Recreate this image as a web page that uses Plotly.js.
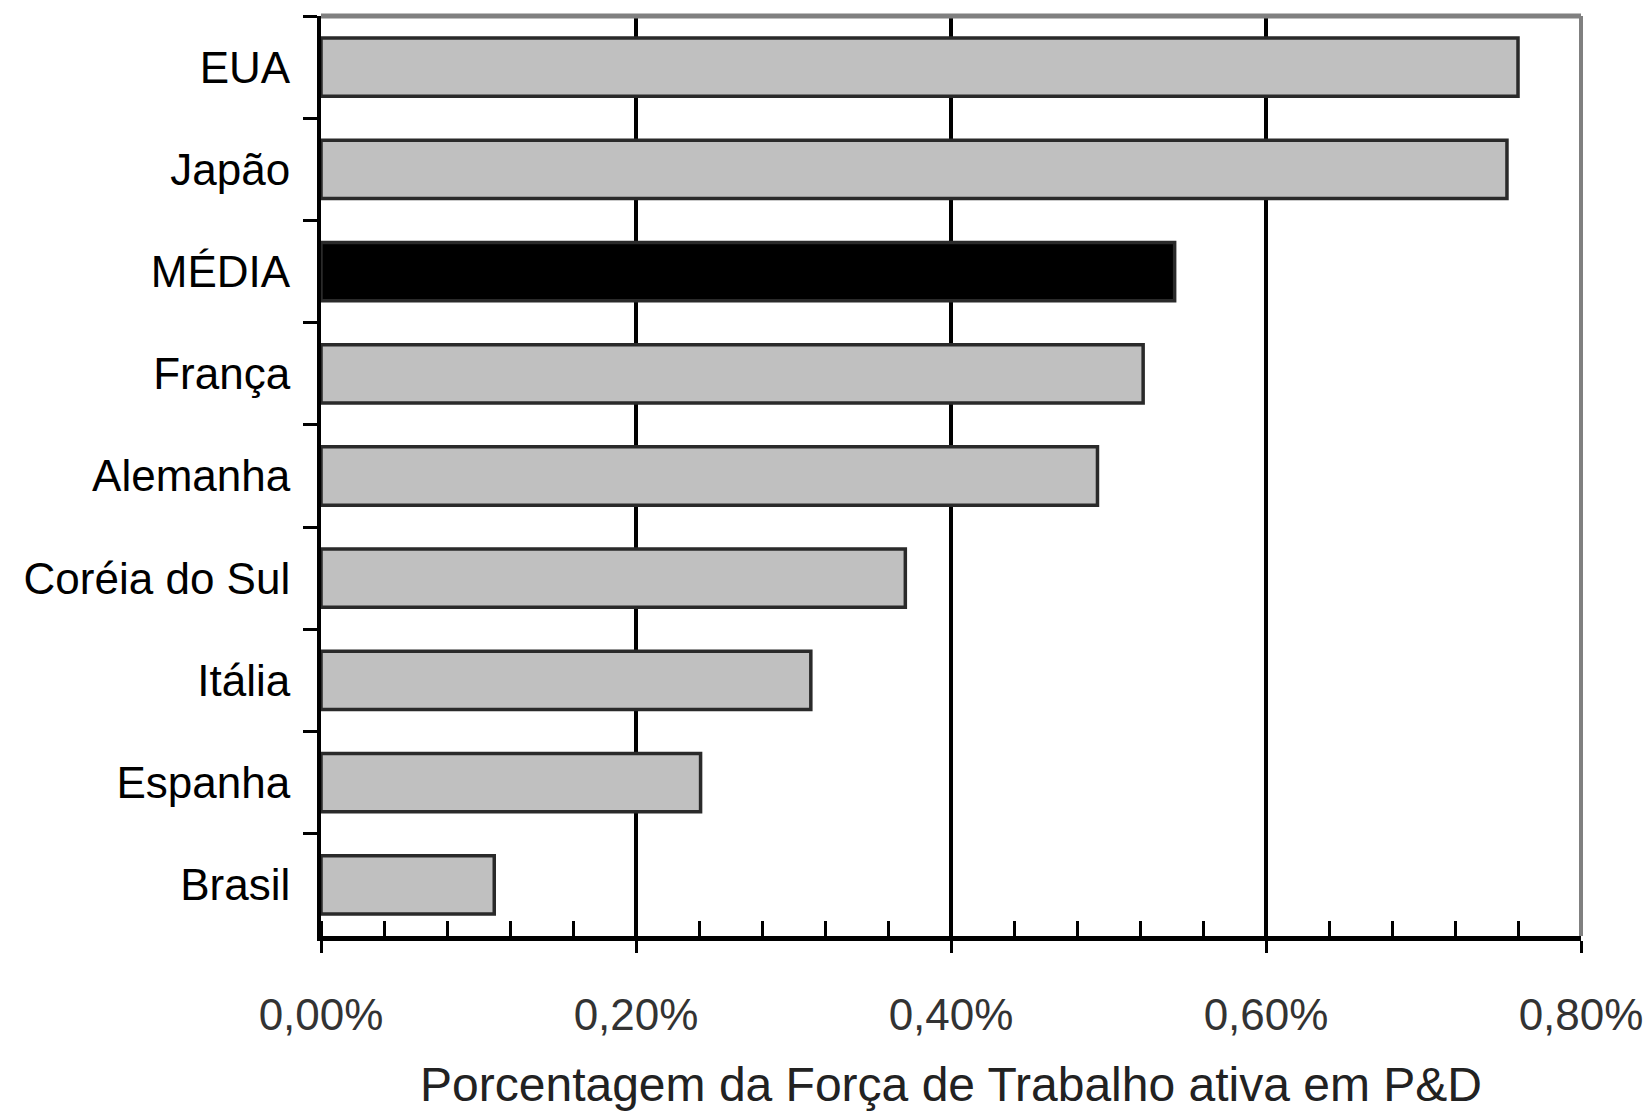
<!DOCTYPE html>
<html>
<head>
<meta charset="utf-8">
<script src="https://cdn.plot.ly/plotly-3.0.1.min.js"></script>
<style>
  html, body { margin: 0; padding: 0; background: #ffffff; }
  #chart { width: 1649px; height: 1111px; }
</style>
</head>
<body>
<div id="chart"></div>
<script>
// Share of the active labour force working in R&D (percent)
const countries = ["EUA", "Japão", "MÉDIA", "França", "Alemanha", "Coréia do Sul", "Itália", "Espanha", "Brasil"];
const shares = [0.760, 0.753, 0.542, 0.522, 0.493, 0.371, 0.311, 0.241, 0.110];
const xTickValues = [0, 0.2, 0.4, 0.6, 0.8];
const xTickLabels = ["0,00%", "0,20%", "0,40%", "0,60%", "0,80%"];
const xTitle = "Porcentagem da Força de Trabalho ativa em P&D";
const highlight = "MÉDIA";

const FONT = "Liberation Sans, Arial, sans-serif";

const fills = countries.map(c => c === highlight ? "#000000" : "#c0c0c0");

const trace = {
  type: "bar",
  orientation: "h",
  y: countries,
  x: shares,
  marker: {
    color: fills,
    line: { color: "#2a2a2a", width: 3.5 }
  },
  hoverinfo: "x+y"
};

const layout = {
  width: 1649,
  height: 1111,
  margin: { l: 321, r: 68, t: 16, b: 175 },
  paper_bgcolor: "#ffffff",
  plot_bgcolor: "#ffffff",
  separators: ",.",
  showlegend: false,
  bargap: 0.43,
  xaxis: {
    range: [0, 0.8],
    tickmode: "array",
    tickvals: xTickValues,
    ticktext: xTickLabels,
    ticks: "outside",
    ticklen: 12,
    tickwidth: 3,
    tickcolor: "#000000",
    ticklabelstandoff: 24,
    tickfont: { family: FONT, size: 44, color: "#333333" },
    showgrid: true,
    gridcolor: "#000000",
    gridwidth: 4,
    zeroline: false,
    showline: true,
    linecolor: "#000000",
    linewidth: 5,
    minor: {
      dtick: 0.04,
      ticks: "inside",
      ticklen: 15,
      tickwidth: 3,
      tickcolor: "#000000",
      showgrid: false
    },
    title: {
      text: xTitle,
      font: { family: FONT, size: 48, color: "#222222" },
      standoff: 40
    },
    automargin: false,
    fixedrange: true
  },
  yaxis: {
    type: "category",
    categoryorder: "array",
    categoryarray: countries,
    autorange: "reversed",
    tickson: "boundaries",
    ticks: "outside",
    ticklen: 14,
    tickwidth: 3,
    tickcolor: "#000000",
    ticklabelstandoff: 18,
    tickfont: { family: FONT, size: 44, color: "#000000" },
    showgrid: false,
    zeroline: false,
    showline: true,
    linecolor: "#000000",
    linewidth: 4,
    automargin: false,
    fixedrange: true
  },
  shapes: [
    // grey frame on the top and right sides of the plot area
    { type: "line", xref: "paper", yref: "paper", x0: 0, x1: 1, y0: 1, y1: 1,
      line: { color: "#808080", width: 5 }, layer: "above" },
    { type: "line", xref: "paper", yref: "paper", x0: 1, x1: 1, y0: 0, y1: 1,
      line: { color: "#808080", width: 4 }, layer: "above" }
  ]
};

Plotly.newPlot("chart", [trace], layout, { displayModeBar: false, staticPlot: true });
</script>
</body>
</html>
